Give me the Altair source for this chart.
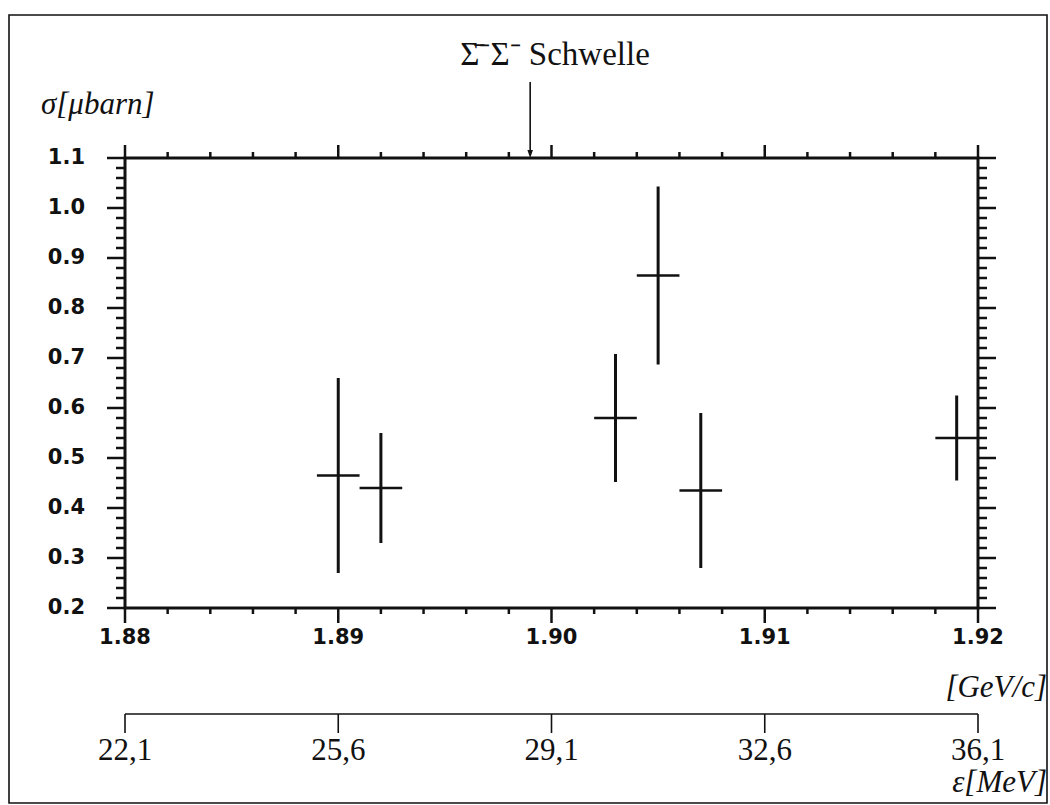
import altair as alt
import pandas as pd
import numpy as np

# ---------------- data ----------------
p_gev = [1.890, 1.892, 1.903, 1.905, 1.907, 1.919]          # momentum [GeV/c]
sigma = [0.465, 0.440, 0.580, 0.865, 0.435, 0.540]          # cross section [mu barn]
sigma_err = [0.195, 0.110, 0.128, 0.178, 0.155, 0.085]
p_err = [0.001, 0.001, 0.001, 0.001, 0.001, 0.001]

x_major = [1.88, 1.89, 1.90, 1.91, 1.92]
x_major_labels = ["1.88", "1.89", "1.90", "1.91", "1.92"]
mev_labels = ["22,1", "25,6", "29,1", "32,6", "36,1"]
y_major = [0.2, 0.3, 0.4, 0.5, 0.6, 0.7, 0.8, 0.9, 1.0, 1.1]
y_major_labels = ["0.2", "0.3", "0.4", "0.5", "0.6", "0.7", "0.8", "0.9", "1.0", "1.1"]
threshold = 1.899
title_text = "Σ̄⁻Σ⁻ Schwelle"

# minor tick positions
x_minor = [round(v, 4) for v in np.arange(1.88, 1.92001, 0.002)
           if min(abs(v - m) for m in x_major) > 1e-6]
y_minor = [round(v, 4) for v in np.arange(0.2, 1.10001, 0.02)
           if min(abs(v - m) for m in y_major) > 1e-6]

W, H = 853, 450
BLACK = "#111111"

xs = alt.Scale(domain=[1.88, 1.92], nice=False, zero=False)
ys = alt.Scale(domain=[0.2, 1.1], nice=False, zero=False)

pts = pd.DataFrame({
    "p": p_gev, "s": sigma,
    "lo": [s - e for s, e in zip(sigma, sigma_err)],
    "hi": [s + e for s, e in zip(sigma, sigma_err)],
    "plo": [p - e for p, e in zip(p_gev, p_err)],
    "phi": [p + e for p, e in zip(p_gev, p_err)],
})
xmaj = pd.DataFrame({"v": x_major, "lab": x_major_labels, "mev": mev_labels})
xmin = pd.DataFrame({"v": x_minor})
ymaj = pd.DataFrame({"v": y_major, "lab": y_major_labels})
ymin = pd.DataFrame({"v": y_minor})
thr = pd.DataFrame({"t": [threshold]})
one = pd.DataFrame({"a": [0]})

X = lambda f: alt.X(f, type="quantitative", scale=xs, axis=None)
Y = lambda f: alt.Y(f, type="quantitative", scale=ys, axis=None)

layers = []
# error bars
layers.append(alt.Chart(pts).mark_rule(color=BLACK, strokeWidth=3).encode(
    x=X("p"), y=Y("lo"), y2="hi"))
layers.append(alt.Chart(pts).mark_rule(color=BLACK, strokeWidth=2.5).encode(
    x=X("plo"), x2="phi", y=Y("s")))

# y ticks left/right
for df, ln in ((ymaj, 18), (ymin, 9)):
    layers.append(alt.Chart(df).mark_rule(color=BLACK, strokeWidth=2.5).encode(
        y=Y("v"), x=alt.value(-ln), x2=alt.value(0)))
    layers.append(alt.Chart(df).mark_rule(color=BLACK, strokeWidth=2.5).encode(
        y=Y("v"), x=alt.value(W), x2=alt.value(W + ln)))
# x ticks bottom/top
for df, lb, lt in ((xmaj, 15, 13), (xmin, 6, 6)):
    layers.append(alt.Chart(df).mark_rule(color=BLACK, strokeWidth=2.5).encode(
        x=X("v"), y=alt.value(H), y2=alt.value(H + lb)))
    layers.append(alt.Chart(df).mark_rule(color=BLACK, strokeWidth=2.5).encode(
        x=X("v"), y=alt.value(0), y2=alt.value(-lt)))

sans = dict(font="DejaVu Sans", fontWeight="bold", fontSize=21, color=BLACK)
serif = dict(font="Liberation Serif", fontSize=31, color=BLACK)

layers.append(alt.Chart(ymaj).mark_text(align="right", baseline="middle", **sans).encode(
    y=Y("v"), x=alt.value(-40), text="lab"))
layers.append(alt.Chart(xmaj).mark_text(align="center", baseline="middle", **sans).encode(
    x=X("v"), y=alt.value(H + 30), text="lab"))

# second (energy) axis
layers.append(alt.Chart(one).mark_rule(color=BLACK, strokeWidth=1.6).encode(
    x=alt.value(0), x2=alt.value(W), y=alt.value(H + 106)))
layers.append(alt.Chart(xmaj).mark_rule(color=BLACK, strokeWidth=1.6).encode(
    x=X("v"), y=alt.value(H + 106), y2=alt.value(H + 125)))
layers.append(alt.Chart(xmaj).mark_text(align="center", baseline="middle", **serif).encode(
    x=X("v"), y=alt.value(H + 143), text="mev"))

# axis titles
layers.append(alt.Chart(one).mark_text(align="right", baseline="middle", fontStyle="italic",
                                       text="[GeV/c]", **serif).encode(
    x=alt.value(W + 69), y=alt.value(H + 80)))
layers.append(alt.Chart(one).mark_text(align="right", baseline="middle", fontStyle="italic",
                                       text="ε[MeV]", **serif).encode(
    x=alt.value(W + 69), y=alt.value(H + 175)))
layers.append(alt.Chart(one).mark_text(align="left", baseline="middle", fontStyle="italic",
                                       text="σ[μbarn]", **serif).encode(
    x=alt.value(-84), y=alt.value(-53)))

# threshold annotation
layers.append(alt.Chart(one).mark_text(align="center", baseline="middle",
                                       text=title_text, font="Liberation Serif",
                                       fontSize=33, color=BLACK).encode(
    x=alt.value(430), y=alt.value(-103)))
layers.append(alt.Chart(thr).mark_rule(color=BLACK, strokeWidth=1.6).encode(
    x=X("t"), y=alt.value(-76), y2=alt.value(-4)))
layers.append(alt.Chart(thr).mark_point(shape="M-0.7,-1L0.7,-1L0,1Z", filled=True, size=64,
                                        color=BLACK, opacity=1).encode(
    x=X("t"), y=alt.value(-4)))

# outer border of the figure
layers.append(alt.Chart(one).mark_rect(fillOpacity=0, stroke=BLACK, strokeWidth=1.6).encode(
    x=alt.value(-116), x2=alt.value(922), y=alt.value(-143), y2=alt.value(645)))

chart = alt.layer(*layers).properties(
    width=W, height=H,
    autosize=alt.AutoSizeParams(type="none"),
    padding={"left": 125, "top": 158, "right": 1050 - 125 - W, "bottom": 805 - 158 - H},
    background="white",
).configure_view(stroke=BLACK, strokeWidth=3)

chart.save("out.html", embed_options={"renderer": "svg", "actions": False})
